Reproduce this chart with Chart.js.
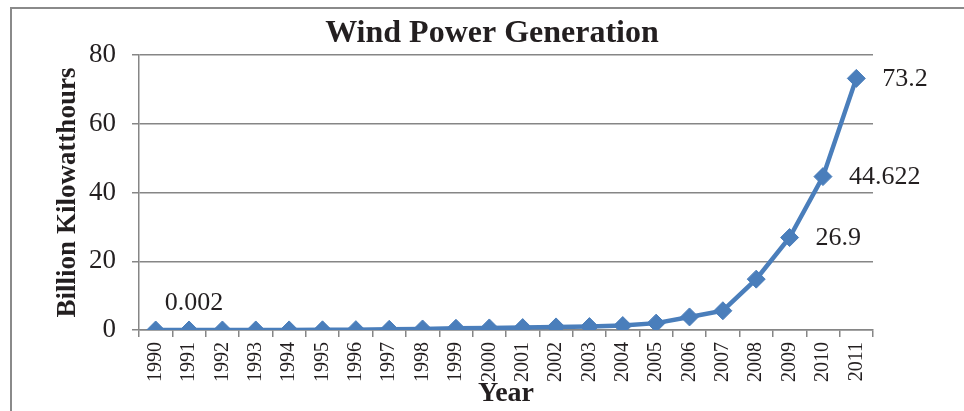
<!DOCTYPE html>
<html>
<head>
<meta charset="utf-8">
<script src="https://cdn.jsdelivr.net/npm/chart.js@4/dist/chart.umd.min.js"></script>
<style>
  html, body { margin: 0; padding: 0; background: #fff; }
  #wrap { position: relative; width: 964px; height: 411px; overflow: hidden; }
  #frame { position: absolute; left: 10px; top: 7px; width: 1000px; height: 500px; border-left: 2px solid #8a8a8a; border-top: 2px solid #8a8a8a; }
  canvas { position: absolute; left: 0; top: 0; }
</style>
</head>
<body>
<div id="wrap">
  <div id="frame"></div>
  <canvas id="c" width="964" height="411"></canvas>
</div>
<script>
const years = ['1990','1991','1992','1993','1994','1995','1996','1997','1998','1999','2000',
               '2001','2002','2003','2004','2005','2006','2007','2008','2009','2010','2011'];
const generation = [0.001,0.002,0.004,0.01,0.02,0.05,0.1,0.2,0.3,0.5,0.6,
                    0.7,0.9,1.0,1.3,2.0,3.8,5.6,14.8,26.9,44.622,73.2];
const labelledPoints = [1, 19, 20, 21];
const labelTexts = ['0.002', '26.9', '44.622', '73.2'];
const yTicks = [0, 20, 40, 60, 80];

const SERIF = '"Liberation Serif", "Times New Roman", serif';
const TEXT = '#231f20';
const GRID = '#868686';

const dataLabels = {
  id: 'dataLabels',
  afterDatasetsDraw(chart) {
    const ctx = chart.ctx;
    const meta = chart.getDatasetMeta(0);
    ctx.save();
    ctx.font = '26px ' + SERIF;
    ctx.fillStyle = TEXT;
    ctx.textBaseline = 'middle';
    labelledPoints.forEach((idx, k) => {
      const p = meta.data[idx];
      if (idx === 1) {
        ctx.textAlign = 'center';
        ctx.fillText(labelTexts[k], p.x + 5, p.y - 27);
      } else {
        ctx.textAlign = 'left';
        ctx.fillText(labelTexts[k], p.x + 26, p.y + 1);
      }
    });
    ctx.restore();
  }
};

new Chart(document.getElementById('c'), {
  type: 'line',
  data: {
    labels: years,
    datasets: [{
      data: generation,
      borderColor: '#4a7ebb',
      backgroundColor: '#4a7ebb',
      borderWidth: 4.5,
      pointStyle: 'rectRot',
      pointRadius: 9,
      pointBorderWidth: 1,
      pointBorderColor: '#4a7ebb',
      pointBackgroundColor: '#4a7ebb',
      tension: 0
    }]
  },
  options: {
    responsive: false,
    animation: false,
    events: [],
    layout: { padding: { left: 20, right: 0, top: 15, bottom: 0 } },
    plugins: {
      legend: { display: false },
      tooltip: { enabled: false },
      title: {
        display: true,
        text: 'Wind Power Generation',
        color: TEXT,
        font: { family: SERIF, size: 32, weight: 'bold', lineHeight: 1.2 },
        padding: { top: 0, bottom: 1.6 }
      }
    },
    scales: {
      x: {
        offset: true,
        grid: { display: true, drawOnChartArea: false, drawTicks: true, tickLength: 7, offset: true, color: GRID, lineWidth: 1.5 },
        border: { display: true, color: GRID, width: 1.5 },
        ticks: { color: TEXT, font: { family: SERIF, size: 20 }, minRotation: 90, maxRotation: 90, padding: 5, autoSkip: false },
        title: { display: true, text: 'Year', color: TEXT, font: { family: SERIF, size: 28, weight: 'bold', lineHeight: 1.2 }, padding: { top: 0, bottom: 0 } },
        afterFit(scale) { scale.height = 81; }
      },
      y: {
        min: 0, max: 80,
        afterBuildTicks(scale) { scale.ticks = yTicks.map(v => ({ value: v })); },
        grid: { color: GRID, lineWidth: 1.5, tickLength: 7 },
        border: { display: true, color: GRID, width: 1.5 },
        ticks: { color: TEXT, font: { family: SERIF, size: 27 }, padding: 16 },
        title: { display: true, text: 'Billion Kilowatthours', color: TEXT, font: { family: SERIF, size: 27, weight: 'bold', lineHeight: 1.2 }, padding: { top: 31.8, bottom: 0 } },
        afterFit(scale) { scale.width = 119; }
      },
      yRightSpace: {
        type: 'linear',
        position: 'right',
        min: 0, max: 80,
        grid: { display: false, drawTicks: false },
        border: { display: false },
        ticks: { display: false },
        title: { display: false },
        afterFit(scale) { scale.width = 91; }
      }
    }
  },
  plugins: [dataLabels]
});
</script>
</body>
</html>
